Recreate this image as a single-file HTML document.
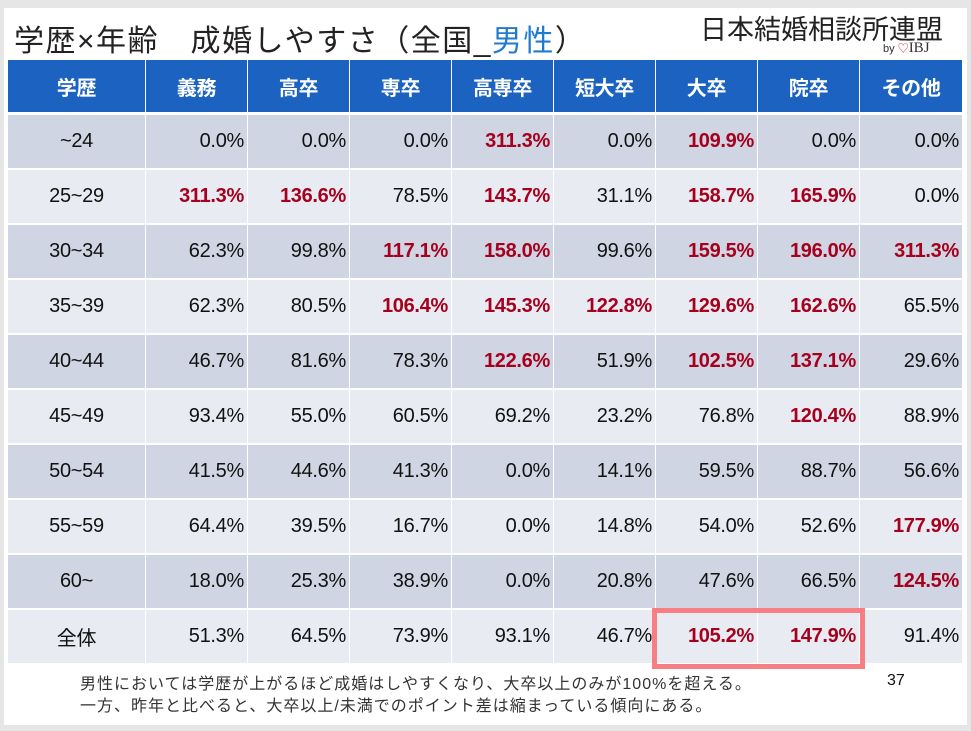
<!DOCTYPE html>
<html><head><meta charset="utf-8"><style>
body{margin:0;width:971px;height:731px;background:#e6e6e6;position:relative;overflow:hidden;font-family:"Liberation Sans","Noto Sans CJK JP",sans-serif}
#slide{position:absolute;left:4px;top:8px;width:963px;height:717px;background:#fff}
.a{position:absolute;box-sizing:border-box}
.cell{font-size:20px;display:flex;align-items:center;justify-content:flex-end;padding-right:3px;color:#111;letter-spacing:-0.3px}
.hd{background:#1c62c0;color:#fff;font-weight:bold;justify-content:center;padding:0;font-size:20px}
.lab{justify-content:center;padding:0}
.hi{color:#a5001d;font-weight:bold}
</style></head><body>
<div id="slide"></div>
<div class="a" style="left:14px;top:16px;font-size:30px;letter-spacing:1.5px;color:#222;white-space:nowrap">学歴×年齢　成婚しやすさ（全国_<span style="color:#1f7bd0">男性</span>）</div>
<div class="a" style="left:700px;top:8px;font-size:27px;color:#222;white-space:nowrap">日本結婚相談所連盟</div>
<div class="a" style="left:883px;top:40px;font-size:11px;color:#333;white-space:nowrap">by <span style="color:#d33">♡</span><span style="font-family:'Liberation Serif',serif;font-size:15px">IBJ</span></div>
<div id="tbl"></div>
<div class="a" style="left:652px;top:608px;width:213px;height:61px;border:5px solid #f77e82"></div>
<div class="a" style="left:80px;top:674px;font-size:16px;letter-spacing:1px;line-height:22px;color:#333;white-space:nowrap">男性においては学歴が上がるほど成婚はしやすくなり、大卒以上のみが100%を超える。<br>一方、昨年と比べると、大卒以上/未満でのポイント差は縮まっている傾向にある。</div>
<div class="a" style="left:887px;top:672px;font-size:16px;color:#111">37</div>
<script>
const headers=["学歴","義務","高卒","専卒","高専卒","短大卒","大卒","院卒","その他"];
const rowLabels=["~24","25~29","30~34","35~39","40~44","45~49","50~54","55~59","60~","全体"];
const values=[
[0.0,0.0,0.0,311.3,0.0,109.9,0.0,0.0],
[311.3,136.6,78.5,143.7,31.1,158.7,165.9,0.0],
[62.3,99.8,117.1,158.0,99.6,159.5,196.0,311.3],
[62.3,80.5,106.4,145.3,122.8,129.6,162.6,65.5],
[46.7,81.6,78.3,122.6,51.9,102.5,137.1,29.6],
[93.4,55.0,60.5,69.2,23.2,76.8,120.4,88.9],
[41.5,44.6,41.3,0.0,14.1,59.5,88.7,56.6],
[64.4,39.5,16.7,0.0,14.8,54.0,52.6,177.9],
[18.0,25.3,38.9,0.0,20.8,47.6,66.5,124.5],
[51.3,64.5,73.9,93.1,46.7,105.2,147.9,91.4]];
const colX=[8,146,248,350,452,554,656,758,860,963];
const t=document.getElementById('tbl');
function mk(x,y,w,h,bg,txt,cls){const d=document.createElement('div');d.className='a cell '+cls;d.style.cssText=`left:${x}px;top:${y}px;width:${w}px;height:${h}px;background:${bg}`;d.textContent=txt;t.appendChild(d);return d;}
headers.forEach((h,i)=>{
const d=mk(colX[i],60,colX[i+1]-colX[i]-1,52,'#1c62c0',h,'hd');


});
rowLabels.forEach((r,j)=>{
const y=115+55*j,bg=j%2?'#e8ebf2':'#cfd5e3';
const l=mk(colX[0],y,colX[1]-colX[0]-1,53,bg,r,'lab');


values[j].forEach((v,i)=>{
const d=mk(colX[i+1],y,colX[i+2]-colX[i+1]-1,53,bg,v.toFixed(1)+'%',v>=100?'hi':'');


});
});
</script>
</body></html>
